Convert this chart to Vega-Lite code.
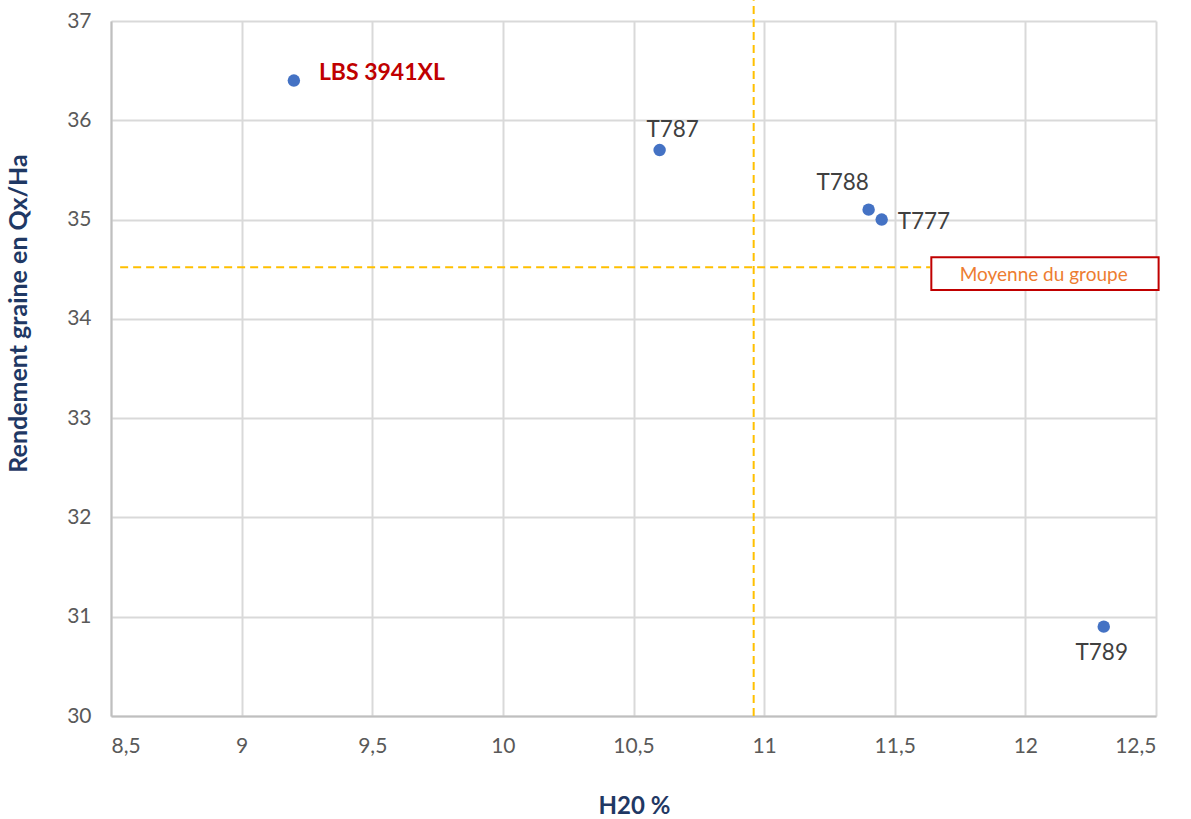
{
  "$schema": "https://vega.github.io/schema/vega-lite/v6.json",
  "autosize": "none",
  "width": 1045,
  "height": 695,
  "padding": {"left": 111, "top": 21, "right": 35, "bottom": 103},
  "background": "white",
  "config": {
    "font": "Lato",
    "view": {"stroke": null},
    "axis": {
      "gridColor": "#D9D9D9",
      "gridWidth": 2,
      "domainColor": "#BFBFBF",
      "domainWidth": 2,
      "ticks": false,
      "labelColor": "#595959",
      "labelFontSize": 21,
      "labelFont": "Lato",
      "titleColor": "#1F3864",
      "titleFontSize": 24,
      "titleFontWeight": "bold",
      "titleFont": "Lato"
    }
  },
  "datasets": {
    "points": [
      {"variete": "LBS 3941XL", "h20": 9.2, "rendement": 36.4},
      {"variete": "T787", "h20": 10.6, "rendement": 35.7},
      {"variete": "T788", "h20": 11.4, "rendement": 35.1},
      {"variete": "T777", "h20": 11.45, "rendement": 35.0},
      {"variete": "T789", "h20": 12.3, "rendement": 30.9}
    ],
    "moyenne": [
      {"h20": 10.96, "rendement": 34.52, "label": "Moyenne du groupe"}
    ]
  },
  "encoding": {
    "x": {
      "field": "h20", "type": "quantitative",
      "scale": {"domain": [8.5, 12.5], "nice": false, "zero": false},
      "axis": {
        "title": "H20 %",
        "values": [8.5, 9, 9.5, 10, 10.5, 11, 11.5, 12, 12.5],
        "labelExpr": "replace(format(datum.value, '~g'), '.', ',')",
        "labelPadding": 19,
        "titleX": 523,
        "titleY": 90,
        "titleAlign": "center",
        "titleBaseline": "middle",
        "domain": true
      }
    },
    "y": {
      "field": "rendement", "type": "quantitative",
      "scale": {"domain": [30, 37], "nice": false, "zero": false},
      "axis": {
        "title": "Rendement graine en  Qx/Ha",
        "values": [30, 31, 32, 33, 34, 35, 36, 37],
        "labelPadding": 20,
        "titleX": -93,
        "titleY": 292,
        "titleAngle": 270,
        "titleAlign": "center",
        "titleBaseline": "middle",
        "titleFontSize": 25,
        "domain": true
      }
    }
  },
  "layer": [
    {
      "data": {"name": "moyenne"},
      "mark": {"type": "rule", "color": "#FFC000", "strokeWidth": 2, "strokeDash": [8, 5], "clip": false},
      "encoding": {
        "y": {"datum": 30},
        "y2": {"datum": 37.21}
      }
    },
    {
      "data": {"name": "moyenne"},
      "mark": {"type": "rule", "color": "#FFC000", "strokeWidth": 2, "strokeDash": [8, 5]},
      "encoding": {
        "x": {"datum": 8.535},
        "x2": {"datum": 11.635}
      }
    },
    {
      "data": {"name": "moyenne"},
      "mark": {"type": "rect", "fill": "white", "stroke": "#C00000", "strokeWidth": 2, "clip": false},
      "encoding": {
        "x": {"datum": 11.64},
        "x2": {"datum": 12.51},
        "y": {"datum": 34.29},
        "y2": {"datum": 34.62}
      }
    },
    {
      "data": {"name": "moyenne"},
      "mark": {"type": "text", "color": "#ED7D31", "fontSize": 19, "align": "center", "baseline": "middle", "font": "Lato"},
      "encoding": {
        "x": {"datum": 12.07},
        "y": {"datum": 34.445},
        "text": {"field": "label"}
      }
    },
    {
      "data": {"name": "points"},
      "mark": {"type": "circle", "size": 155, "color": "#4472C4", "opacity": 1}
    },
    {
      "data": {"name": "points"},
      "transform": [{"filter": "datum.variete == 'LBS 3941XL'"}],
      "mark": {"type": "text", "align": "left", "baseline": "middle", "dx": 25, "dy": -8, "fontSize": 23, "fontWeight": "bold", "color": "#C00000"},
      "encoding": {"text": {"field": "variete"}}
    },
    {
      "data": {"name": "points"},
      "transform": [{"filter": "datum.variete == 'T787'"}],
      "mark": {"type": "text", "align": "center", "baseline": "middle", "dx": 13, "dy": -20, "fontSize": 22.5, "color": "#404040"},
      "encoding": {"text": {"field": "variete"}}
    },
    {
      "data": {"name": "points"},
      "transform": [{"filter": "datum.variete == 'T788'"}],
      "mark": {"type": "text", "align": "center", "baseline": "middle", "dx": -26, "dy": -27, "fontSize": 22.5, "color": "#404040"},
      "encoding": {"text": {"field": "variete"}}
    },
    {
      "data": {"name": "points"},
      "transform": [{"filter": "datum.variete == 'T777'"}],
      "mark": {"type": "text", "align": "left", "baseline": "middle", "dx": 16, "dy": 2, "fontSize": 22.5, "color": "#404040"},
      "encoding": {"text": {"field": "variete"}}
    },
    {
      "data": {"name": "points"},
      "transform": [{"filter": "datum.variete == 'T789'"}],
      "mark": {"type": "text", "align": "center", "baseline": "middle", "dx": -2, "dy": 26, "fontSize": 22.5, "color": "#404040"},
      "encoding": {"text": {"field": "variete"}}
    }
  ]
}
